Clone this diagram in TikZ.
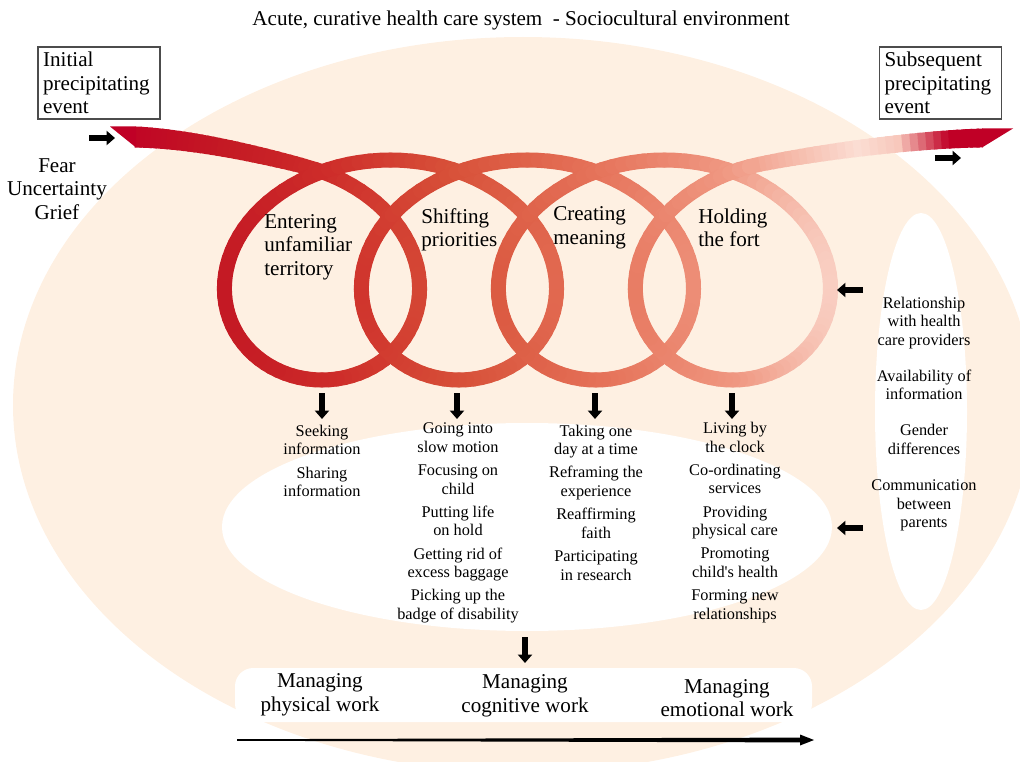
\documentclass[tikz,border=0pt]{standalone}
\usepackage{fontspec}
\setmainfont{Liberation Serif}
\usetikzlibrary{positioning,arrows.meta}

\definecolor{peach}{RGB}{254,240,226}
\definecolor{crimson}{RGB}{192,0,38}

\newcommand\bigtxt{\fontsize{15pt}{16.7pt}\selectfont}
\newcommand\smalltxt{\fontsize{11.6pt}{13.2pt}\selectfont}

\tikzset{
  stagetext/.style={font=\bigtxt,align=left,anchor=west,inner sep=0pt},
  worktext/.style={font=\bigtxt,align=center,inner sep=0pt},
  itemtext/.style={font=\smalltxt,align=center,inner sep=0pt},
  eventbox/.style={draw=black!70,line width=1pt,font=\bigtxt,align=left,
    text width=79.5pt,minimum height=51.2pt,inner xsep=3.5pt,inner ysep=0pt},
  blockarrow/.style={line width=4.3pt,-{Triangle[length=6pt,width=10pt]}}
}

\begin{document}
\begin{tikzpicture}[x=0.025cm,y=-0.025cm,
  declare function={
    ramp(\v,\lo,\hi)=min(max((\v-\lo)/(\hi-\lo),0),1);
    bandr(\v)=192+4*ramp(\v,110,220)+10*ramp(\v,220,330)+10*ramp(\v,330,460)+14*ramp(\v,460,600)+10*ramp(\v,600,730)+12*ramp(\v,730,860)-4*ramp(\v,860,900)-56*ramp(\v,900,950);
    bandg(\v)=25*ramp(\v,110,220)+20*ramp(\v,220,330)+37*ramp(\v,330,460)+33*ramp(\v,460,600)+37*ramp(\v,600,730)+70*ramp(\v,730,860)-22*ramp(\v,860,900)-200*ramp(\v,900,950);
    bandb(\v)=38-2*ramp(\v,110,220)+6*ramp(\v,220,330)+16*ramp(\v,330,460)+32*ramp(\v,460,600)+40*ramp(\v,600,730)+82*ramp(\v,730,860)-24*ramp(\v,860,900)-150*ramp(\v,900,950);
    coilx(\ang)=253.5+0.38048*\ang+130*sin(\ang);
    coily(\ang)=270-110*cos(\ang);
    bez(\s,\pa,\pb,\pc,\pd)=(1-\s)^3*\pa+3*(1-\s)^2*\s*\pb+3*(1-\s)*\s^2*\pc+\s^3*\pd;
  }]
\useasboundingbox (0,0) rectangle (1020,762);
\clip (0,0) rectangle (1020,762);

% background shapes
\fill[peach] (523,405) ellipse [x radius=510,y radius=368];
\fill[white] (527,527) ellipse [x radius=305,y radius=104];
\fill[white] (921,411.5) ellipse [x radius=46,y radius=198.5];
\fill[white,rounded corners=13pt] (235,668) rectangle (812,722);

% coil band, lead-in
\foreach \i in {0,...,29}{
  \pgfmathsetmacro\sa{\i/30}
  \pgfmathsetmacro\sb{min((\i+1.4)/30,1)}
  \pgfmathsetmacro\xa{bez(\sa,135,185,247.6,305.6)}
  \pgfmathsetmacro\ya{bez(\sa,137,138.5,151.4,166.6)}
  \pgfmathsetmacro\xb{bez(\sb,135,185,247.6,305.6)}
  \pgfmathsetmacro\yb{bez(\sb,137,138.5,151.4,166.6)}
  \pgfmathsetmacro\bw{(21-6*\sa)*0.7113}
  \pgfmathtruncatemacro\rc{bandr((\xa+\xb)/2)}
  \pgfmathtruncatemacro\gc{bandg((\xa+\xb)/2)}
  \pgfmathtruncatemacro\bc{bandb((\xa+\xb)/2)}
  \definecolor{bandc}{RGB}{\rc,\gc,\bc}
  \draw[bandc,line width=\bw pt] (\xa,\ya) -- (\xb,\yb);
}
% coil band, loops
\foreach \ang in {20,24,...,1420}{
  \pgfmathsetmacro\xa{coilx(\ang)}
  \pgfmathsetmacro\ya{coily(\ang)}
  \pgfmathsetmacro\xb{coilx(\ang+4)}
  \pgfmathsetmacro\yb{coily(\ang+4)}
  \pgfmathtruncatemacro\rc{bandr((\xa+\xb)/2)}
  \pgfmathtruncatemacro\gc{bandg((\xa+\xb)/2)}
  \pgfmathtruncatemacro\bc{bandb((\xa+\xb)/2)}
  \definecolor{bandc}{RGB}{\rc,\gc,\bc}
  \draw[bandc,line width=10.67pt,line cap=round] (\xa,\ya) -- (\xb,\yb);
}
% coil band, lead-out
\foreach \i in {0,...,29}{
  \pgfmathsetmacro\sa{\i/30}
  \pgfmathsetmacro\sb{min((\i+1.4)/30,1)}
  \pgfmathsetmacro\xa{bez(\sa,759.5,818.2,920,983)}
  \pgfmathsetmacro\ya{bez(\sa,164.3,152.2,139,138)}
  \pgfmathsetmacro\xb{bez(\sb,759.5,818.2,920,983)}
  \pgfmathsetmacro\yb{bez(\sb,164.3,152.2,139,138)}
  \pgfmathsetmacro\bw{(15+4*\sa)*0.7113}
  \pgfmathtruncatemacro\rc{bandr((\xa+\xb)/2)}
  \pgfmathtruncatemacro\gc{bandg((\xa+\xb)/2)}
  \pgfmathtruncatemacro\bc{bandb((\xa+\xb)/2)}
  \definecolor{bandc}{RGB}{\rc,\gc,\bc}
  \draw[bandc,line width=\bw pt] (\xa,\ya) -- (\xb,\yb);
}
\fill[crimson] (136,126.5) -- (110,126.5) -- (136,147.5) -- cycle;
\fill[crimson] (982,128.5) -- (1013,128.5) -- (982,147.5) -- cycle;

% texts
\node (title) at (521,20) [worktext] {Acute, curative health care system~ - Sociocultural environment};
\node (initial) at (99,83) [eventbox] {Initial\\precipitating\\event};
\node (subsequent) at (940.5,83) [eventbox] {Subsequent\\precipitating\\event};
\node (feelings) at (57,189) [worktext] {Fear\\Uncertainty\\Grief};

\node (entering) at (264,247) [stagetext] {Entering\\unfamiliar\\territory};
\node (shifting) at (421,230) [stagetext] {Shifting\\priorities};
\node (creating) at (553,228) [stagetext] {Creating\\meaning};
\node (holding) at (698,228) [stagetext] {Holding\\the fort};

\node (seeking) at (322,461) [itemtext] {Seeking\\information\\[3.3pt]Sharing\\information};
\node (going) at (458,523) [itemtext] {Going into\\slow motion\\[3.3pt]Focusing on\\child\\[3.3pt]Putting life\\on hold\\[3.3pt]Getting rid of\\excess baggage\\[3.3pt]Picking up the\\badge of disability};
\node (taking) at (596,502.5) [itemtext] {Taking one\\day at a time\\[3.3pt]Reframing the\\experience\\[3.3pt]Reaffirming\\faith\\[3.3pt]Participating\\in research};
\node (living) at (735,522.5) [itemtext] {Living by\\the clock\\[3.3pt]Co-ordinating\\services\\[3.3pt]Providing\\physical care\\[3.3pt]Promoting\\child\textquotesingle s health\\[3.3pt]Forming new\\relationships};

\node (factors) at (924,414) [itemtext] {Relationship\\with health\\care providers\\[12.5pt]Availability of\\information\\[12.5pt]Gender\\differences\\[12.5pt]Communication\\between\\parents};

\node (physical) at (320,695) [worktext] {Managing\\physical work};
\node (cognitive) at (525,696) [worktext] {Managing\\cognitive work};
\node (emotional) at (727,698) [worktext] {Managing\\emotional work};

% arrows
\coordinate (inTail) at (89,138);
\coordinate (inHead) at (115,138);
\coordinate (outTail) at (935,158);
\coordinate (outHead) at (961,158);
\coordinate (relTail) at (863,290);
\coordinate (relHead) at (837,290);
\coordinate (comTail) at (863,528);
\coordinate (comHead) at (837,528);
\coordinate (workTail) at (525,637);
\coordinate (workHead) at (525,663);
\draw[blockarrow] (inTail) -- (inHead);
\draw[blockarrow] (outTail) -- (outHead);
\draw[blockarrow] (relTail) -- (relHead);
\draw[blockarrow] (comTail) -- (comHead);
\draw[blockarrow] (workTail) -- (workHead);
\foreach \n/\x in {1/322,2/457,3/595,4/732}{
  \coordinate (down\n a) at (\x,393);
  \coordinate (down\n b) at (\x,419);
  \draw[blockarrow] (down\n a) -- (down\n b);
}

\coordinate (scaleL) at (237,740);
\coordinate (scaleR) at (814,740);
\fill (237,739.2) -- (800,737.6) -- (800,734.5) -- (scaleR) -- (800,745.5) -- (800,742.4) -- (237,740.8) -- cycle;
\end{tikzpicture}
\end{document}
